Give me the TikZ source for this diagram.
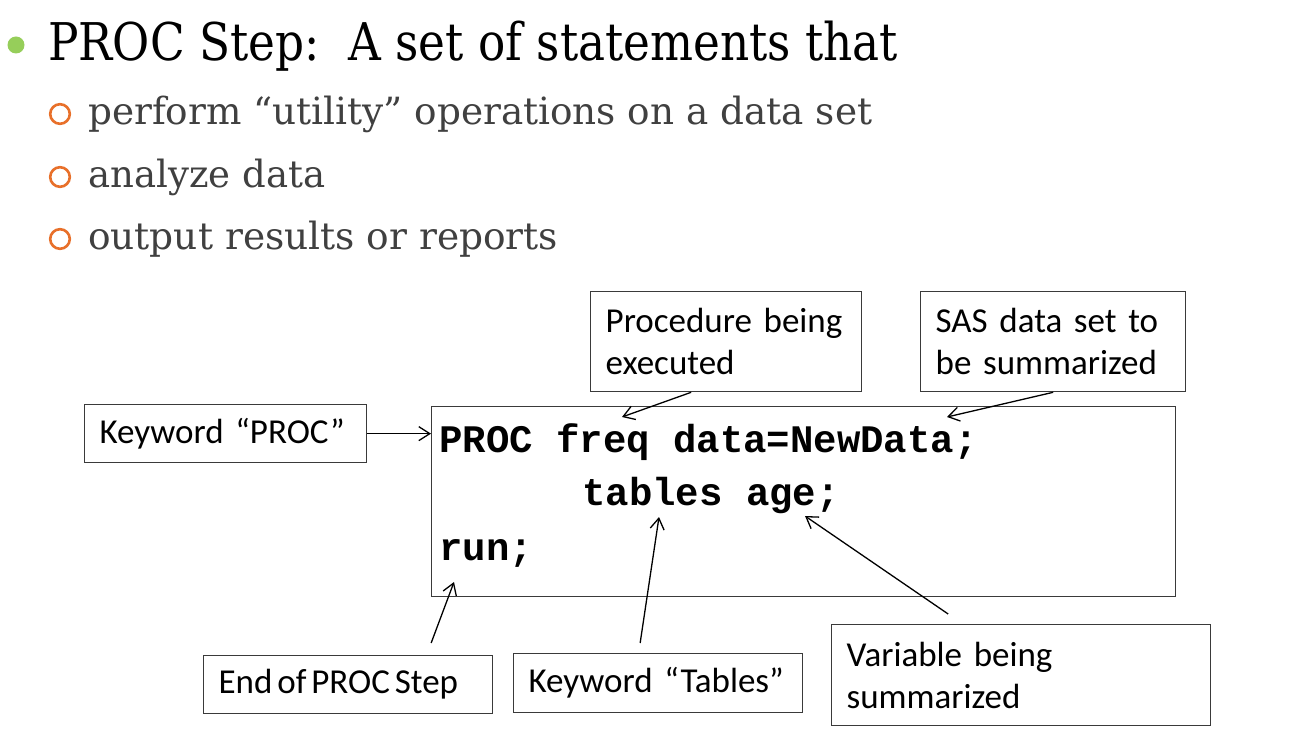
\documentclass[tikz,border=0pt]{standalone}
\usepackage{graphicx}
\usepackage{fontspec}
\setmainfont{DejaVu Serif}
\newfontfamily\calib{Carlito}
\newfontfamily\cour{Liberation Mono}
\usetikzlibrary{arrows.meta,calc}
\definecolor{subgray}{HTML}{404040}
\definecolor{boxgray}{HTML}{3A3A3A}
\definecolor{bulgreen}{HTML}{96CE5A}
\definecolor{bulorange}{HTML}{E8702A}
\newsavebox\fitbox
\newlength\fitlen
\newcommand\FitTo[2]{\sbox\fitbox{#2}\setlength\fitlen{\wd\fitbox}\pgfmathsetmacro\fitratio{#1/\fitlen}\scalebox{\fitratio}[1]{\usebox\fitbox}}
\tikzset{
  lbl/.style={draw=boxgray, line width=1.3pt, font=\calib\fontsize{35}{42}\selectfont,
    align=left, inner xsep=15pt, inner ysep=0pt, anchor=north west},
  codetxt/.style={font=\cour\bfseries\fontsize{39}{45}\selectfont, inner sep=0pt, anchor=base west},
  titletxt/.style={font=\fontsize{52}{60}\selectfont, inner sep=0pt, anchor=base west},
  subtxt/.style={font=\fontsize{37.5}{44}\selectfont, text=subgray, inner sep=0pt, anchor=base west},
  ring/.style={draw=bulorange, line width=2.6pt},
  arr/.style={-{Straight Barb[length=11pt,width=14pt]}, line width=1.3pt, draw=black}
}
\begin{document}
\begin{tikzpicture}[x=1pt,y=-1pt]
\useasboundingbox[fill=white] (0,0) rectangle (1310,746);
% bullets
\fill[bulgreen] (16,45) circle (8.5);
\node[titletxt] (title) at (48,61) {\FitTo{850}{PROC Step:\ \ A set of statements that}};
\draw[ring] (60,114) circle (9.8);
\draw[ring] (60,177) circle (9.8);
\draw[ring] (60,239) circle (9.8);
\node[subtxt] (s1) at (88,125) {\FitTo{784}{perform “utility” operations on a data set}};
\node[subtxt] (s2) at (88,188) {\FitTo{237}{analyze data}};
\node[subtxt] (s3) at (88,250) {\FitTo{470}{output results or reports}};
% code box
\node[draw=boxgray, line width=1.3pt, minimum width=744pt, minimum height=190pt, inner sep=0pt, anchor=north west] (code) at (431,406) {};
\node[codetxt] (l1) at (439,452) {PROC freq data=NewData;};
\node[codetxt] (l2) at (582,505) {tables age;};
\node[codetxt] (l3) at (439,560) {run;};
% label boxes
\node[lbl, minimum width=282pt, minimum height=58pt, text width=252pt] (kwproc) at (84,404) {Keyword “PROC”};
\node[lbl, minimum width=271pt, minimum height=100pt, text width=241pt] (proc) at (590,291) {Procedure being\\executed};
\node[lbl, minimum width=265pt, minimum height=100pt, text width=235pt] (sas) at (920,291) {SAS data set to\\be summarized};
\node[lbl, minimum width=289pt, minimum height=58pt, text width=259pt] (endb) at (203,655) {\mbox{\spaceskip=0.14em End of PROC Step}};
\node[lbl, minimum width=289pt, minimum height=59pt, text width=259pt] (tabb) at (513,653) {Keyword “Tables”};
\node[lbl, minimum width=379pt, minimum height=101pt, text width=349pt] (varb) at (831,624) {Variable being\\summarized};
% arrow targets
\coordinate (tproc) at (622,417);
\coordinate (tsas) at (947,417);
\coordinate (ttab) at (659,517);
\coordinate (tage) at (805,516);
\coordinate (trun) at (454,582);
% connectors
\draw[arr] (kwproc.east) -- (kwproc.east -| code.west);
\draw[arr] ([xshift=-35pt]proc.south) -- (tproc);
\draw[arr] (sas.south) -- (tsas);
\draw[arr] ([xshift=-18pt,yshift=10pt]tabb.north) -- (ttab);
\draw[arr] ([xshift=-73pt,yshift=10pt]varb.north) -- (tage);
\draw[arr] ([xshift=83pt,yshift=12pt]endb.north) -- (trun);
\end{tikzpicture}
\end{document}
